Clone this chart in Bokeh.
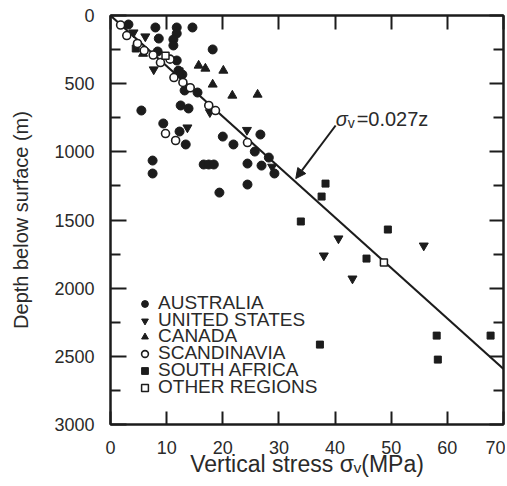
import numpy as np
from bokeh.plotting import figure
from bokeh.models import (Range1d, FixedTicker, LinearAxis, Legend, LegendItem,
                          Label, Arrow, NormalHead)
from bokeh.embed import file_html
from bokeh.resources import INLINE

# ---- data (vertical stress in MPa, depth in m) ----
australia_stress = [3.2, 8.0, 11.8, 14.6, 11.8, 8.6, 11.2, 11.2, 18.2, 8.4, 11.8, 12.1, 12.8,
                    13.2, 15.5, 12.5, 13.9, 5.5, 9.4, 12.3, 13.4, 20.0, 21.9, 7.5, 7.5,
                    16.6, 17.5, 18.4, 19.4, 24.4, 24.4, 26.7, 25.7, 28.2, 26.9, 29.2]
australia_depth = [66, 88, 88, 88, 132, 169, 176, 220, 249, 264, 330, 404, 433,
                   550, 565, 660, 682, 697, 792, 851, 946, 888, 946, 1064, 1159,
                   1093, 1093, 1093, 1299, 1086, 1240, 873, 998, 1042, 1101, 1159]

us_stress = [4.1, 6.2, 7.7, 13.7, 17.7, 24.3, 28.8, 40.6, 55.8, 38.0, 43.1]
us_depth = [125, 154, 396, 822, 710, 840, 1110, 1636, 1688, 1761, 1930]

canada_stress = [5.8, 15.7, 16.9, 20.1, 18.2, 21.7, 26.2]
canada_depth = [280, 367, 389, 404, 506, 587, 580]

scandinavia_stress = [1.8, 2.9, 4.8, 6.0, 7.6, 8.9, 10.6, 11.3, 12.9, 14.2,
                      17.5, 18.7, 24.4, 9.8, 11.6]
scandinavia_depth = [70, 147, 205, 257, 290, 345, 320, 455, 491, 530,
                     660, 697, 932, 866, 917]

south_africa_stress = [4.5, 12.3, 38.3, 37.6, 33.9, 49.4, 45.6, 37.3, 58.1, 58.3, 67.7]
south_africa_depth = [242, 410, 1233, 1328, 1511, 1570, 1783, 2414, 2348, 2524, 2348]

other_stress = [9.8, 48.7]
other_depth = [295, 1812]

trend_coeff = 0.027
trend_depth = [0, 2600]

x_ticks = [0, 10, 20, 30, 40, 50, 60, 70]
y_ticks = [0, 500, 1000, 1500, 2000, 2500, 3000]
y_minor = [250, 750, 1250, 1750, 2250, 2750]

FONT = "Liberation Sans"
INK = "#1c1c1c"
TXT = "#2a2a2a"

p = figure(width=505, height=484, output_backend="svg", toolbar_location=None,
           x_range=Range1d(0, 70), y_range=Range1d(3000, 0),
           min_border_left=110, min_border_right=2, min_border_top=15,
           min_border_bottom=60, background_fill_color="white",
           border_fill_color="white")
p.grid.visible = False
p.outline_line_color = INK
p.outline_line_width = 2

# bottom axis
xa = p.xaxis[0]
xa.ticker = FixedTicker(ticks=x_ticks)
xa.axis_label = "Vertical stress σᵥ(MPa)"
xa.axis_label_text_font = FONT
xa.axis_label_text_font_size = "23px"
xa.axis_label_text_font_style = "normal"
xa.axis_label_text_color = TXT
xa.axis_label_standoff = -6
xa.major_label_text_font = FONT
xa.major_label_text_font_size = "18px"
xa.major_label_text_color = TXT
xa.major_label_standoff = 16
xa.major_tick_in = 13
xa.major_tick_out = 0
xa.minor_tick_in = 0
xa.minor_tick_out = 0
xa.axis_line_color = INK
xa.axis_line_width = 2
xa.major_tick_line_color = INK
xa.major_tick_line_width = 2

# left axis
ya = p.yaxis[0]
ya.ticker = FixedTicker(ticks=y_ticks, minor_ticks=y_minor)
ya.axis_label = "Depth below surface (m)"
ya.axis_label_text_font = FONT
ya.axis_label_text_font_size = "20px"
ya.axis_label_text_font_style = "normal"
ya.axis_label_text_color = TXT
ya.axis_label_standoff = 19
ya.major_label_text_font = FONT
ya.major_label_text_font_size = "18px"
ya.major_label_text_color = TXT
ya.major_label_standoff = 16
ya.major_label_orientation = "horizontal"
ya.major_tick_in = 16
ya.major_tick_out = 0
ya.minor_tick_in = 10
ya.minor_tick_out = 0
ya.axis_line_color = INK
ya.axis_line_width = 2
ya.major_tick_line_color = INK
ya.major_tick_line_width = 2
ya.minor_tick_line_color = INK
ya.minor_tick_line_width = 2

# top and right axes: ticks only, no labels
top = LinearAxis(ticker=FixedTicker(ticks=x_ticks), major_label_text_font_size="0px",
                 major_label_text_color=None,
                 major_label_standoff=0, major_tick_in=14, major_tick_out=0,
                 minor_tick_in=0, minor_tick_out=0, axis_line_color=INK, axis_line_width=2,
                 major_tick_line_color=INK, major_tick_line_width=2)
p.add_layout(top, "above")
right = LinearAxis(ticker=FixedTicker(ticks=y_ticks, minor_ticks=y_minor),
                   major_label_text_font_size="0px", major_label_text_color=None,
                   major_label_standoff=0,
                   major_tick_in=14, major_tick_out=0, minor_tick_in=10, minor_tick_out=0,
                   axis_line_color=INK, axis_line_width=2,
                   major_tick_line_color=INK, major_tick_line_width=2,
                   minor_tick_line_color=INK, minor_tick_line_width=2)
p.add_layout(right, "right")

# trend line
trend_stress = [trend_coeff * d for d in trend_depth]
p.line(trend_stress, trend_depth, line_color=INK, line_width=2)

r_au = p.scatter(australia_stress, australia_depth, marker="circle", size=9,
                 fill_color=INK, line_color=INK)
r_us = p.scatter(us_stress, us_depth, marker="inverted_triangle", size=9,
                 fill_color=INK, line_color=INK)
r_ca = p.scatter(canada_stress, canada_depth, marker="triangle", size=9,
                 fill_color=INK, line_color=INK)
r_sa = p.scatter(south_africa_stress, south_africa_depth, marker="square", size=7,
                 fill_color=INK, line_color=INK)
r_sc = p.scatter(scandinavia_stress, scandinavia_depth, marker="circle", size=8,
                 fill_color="white", line_color=INK, line_width=1.6)
r_ot = p.scatter(other_stress, other_depth, marker="square", size=7,
                 fill_color="white", line_color=INK, line_width=1.5)

# legend: one row per entry so that the rows can sit closer than the text height
legend_labels = ["AUSTRALIA", "UNITED STATES", "CANADA", "SCANDINAVIA",
                 "SOUTH AFRICA", "OTHER REGIONS"]
legend_renderers = [r_au, r_us, r_ca, r_sc, r_sa, r_ot]
legend_rows_y = [110, 93, 77, 60, 43, 26]
for lab, rend, ly in zip(legend_labels, legend_renderers, legend_rows_y):
    lg = Legend(items=[LegendItem(label=lab, renderers=[rend])],
                location=(26, ly), orientation="vertical",
                label_text_font=FONT, label_text_font_size="19px",
                label_text_color=TXT,
                glyph_width=17, glyph_height=17, label_height=17,
                label_standoff=5, spacing=0, padding=0, margin=0,
                border_line_color=None, background_fill_alpha=0)
    p.add_layout(lg)

# annotation: sigma_v = 0.027z with arrow
p.add_layout(Arrow(x_start=40.1, y_start=807, x_end=33.0, y_end=1196,
                   line_color=INK, line_width=2,
                   end=NormalHead(size=10, fill_color=INK, line_color=INK)))
p.add_layout(Label(x=40.1, y=756, text="σ", text_font=FONT, text_font_size="20px",
                   text_font_style="italic", text_color=TXT, text_baseline="alphabetic"))
p.add_layout(Label(x=40.1, y=756, x_offset=12, y_offset=-4, text="v", text_font=FONT,
                   text_font_size="14px", text_color=TXT, text_baseline="alphabetic"))
p.add_layout(Label(x=40.1, y=756, x_offset=21, text="=0.027z", text_font=FONT,
                   text_font_size="20px", text_color=TXT, text_baseline="alphabetic"))

open("out.html", "w").write(file_html(p, INLINE))
